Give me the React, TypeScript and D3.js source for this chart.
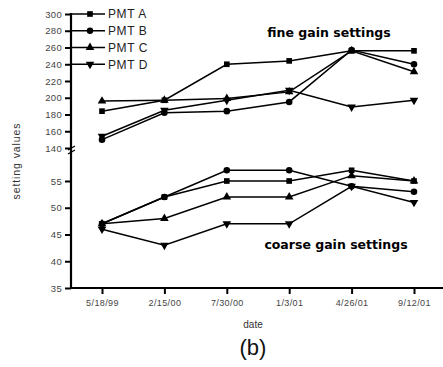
import React, { useEffect, useRef } from "react";
import * as d3 from "d3";

const dates = ["5/18/99", "2/15/00", "7/30/00", "1/3/01", "4/26/01", "9/12/01"];
const seriesNames = ["PMT A", "PMT B", "PMT C", "PMT D"];
const fineTicks = [140, 160, 180, 200, 220, 240, 260, 280, 300];
const coarseTicks = [35, 40, 45, 50, 55];

// fine gain settings
const fineA = [184, 197, 240, 244, 256, 256];
const fineB = [150, 182, 184, 195, 257, 240];
const fineC = [196, 197, 199, 207, 256, 231];
const fineD = [154, 185, 197, 209, 189, 197];

// coarse gain settings
const coarseA = [47, 52, 55, 55, 57, 55];
const coarseB = [47, 52, 57, 57, 54, 53];
const coarseC = [47, 48, 52, 52, 56, 55];
const coarseD = [46, 43, 47, 47, 54, 51];

const fine = [fineA, fineB, fineC, fineD];
const coarse = [coarseA, coarseB, coarseC, coarseD];

const symbols = [
  d3.symbolSquare,
  d3.symbolCircle,
  d3.symbolTriangle,
  d3.symbolTriangle,
];

const App: React.FC = () => {
  const svgRef = useRef<SVGSVGElement | null>(null);

  useEffect(() => {
    const width = 443;
    const height = 367;
    const axisX = 71;

    const svg = d3
      .select(svgRef.current)
      .attr("width", width)
      .attr("height", height)
      .style("font-family", "Liberation Sans, Arial, sans-serif");
    svg.selectAll("*").remove();

    const x = d3.scalePoint().domain(dates).range([102, 414]);
    const yFine = d3.scaleLinear().domain([140, 300]).range([148, 14]);
    const yCoarse = d3.scaleLinear().domain([35, 55]).range([288, 181]);

    // y axes
    const gFine = svg
      .append("g")
      .attr("transform", `translate(${axisX},0)`)
      .call(d3.axisLeft(yFine).tickValues(fineTicks).tickSize(6).tickSizeOuter(0));
    const gCoarse = svg
      .append("g")
      .attr("transform", `translate(${axisX},0)`)
      .call(d3.axisLeft(yCoarse).tickValues(coarseTicks).tickSize(6).tickSizeOuter(0));
    [gFine, gCoarse].forEach((g) => {
      g.select(".domain").remove();
      g.selectAll("line").attr("stroke", "#000").attr("stroke-width", 2);
      g.selectAll("text")
        .attr("font-size", 9.5)
        .attr("letter-spacing", 0.3)
        .attr("fill", "#444")
        .attr("x", -9);
    });
    svg
      .append("line")
      .attr("x1", axisX)
      .attr("x2", axisX)
      .attr("y1", 13)
      .attr("y2", 289)
      .attr("stroke", "#000")
      .attr("stroke-width", 2.2);

    // axis break
    [148, 152].forEach((yy) => {
      svg
        .append("line")
        .attr("x1", axisX - 3)
        .attr("x2", axisX + 4)
        .attr("y1", yy + 2)
        .attr("y2", yy - 2)
        .attr("stroke", "#000")
        .attr("stroke-width", 1.3);
    });

    // x axis
    const gx = svg
      .append("g")
      .attr("transform", `translate(0,288)`)
      .call(d3.axisBottom(x).tickSize(6).tickSizeOuter(0));
    gx.select(".domain").remove();
    gx.selectAll("line").attr("stroke", "#000").attr("stroke-width", 2);
    gx.selectAll("text")
      .attr("font-size", 9)
      .attr("letter-spacing", 0.4)
      .attr("fill", "#444")
      .attr("y", 18)
      .attr("dy", 0);
    svg
      .append("line")
      .attr("x1", axisX - 1)
      .attr("x2", 443)
      .attr("y1", 288)
      .attr("y2", 288)
      .attr("stroke", "#000")
      .attr("stroke-width", 2.2);

    const drawSeries = (
      values: number[],
      y: d3.ScaleLinear<number, number>,
      i: number,
    ) => {
      const line = d3
        .line<number>()
        .x((_, j) => x(dates[j]) as number)
        .y((d) => y(d));
      svg
        .append("path")
        .datum(values)
        .attr("d", line)
        .attr("fill", "none")
        .attr("stroke", "#000")
        .attr("stroke-width", 1.5);
      svg
        .selectAll(null)
        .data(values)
        .enter()
        .append("path")
        .attr("d", d3.symbol().type(symbols[i]).size(i === 1 ? 34 : 32)())
        .attr(
          "transform",
          (d, j) =>
            `translate(${x(dates[j])},${y(d)})` + (i === 3 ? " rotate(180)" : ""),
        )
        .attr("fill", "#000");
    };

    fine.forEach((vals, i) => drawSeries(vals, yFine, i));
    coarse.forEach((vals, i) => drawSeries(vals, yCoarse, i));

    // legend
    seriesNames.forEach((name, i) => {
      const ly = yFine(fineTicks[fineTicks.length - 1 - i]);
      svg
        .append("line")
        .attr("x1", axisX)
        .attr("x2", 105)
        .attr("y1", ly)
        .attr("y2", ly)
        .attr("stroke", "#000")
        .attr("stroke-width", 1.5);
      svg
        .append("path")
        .attr("d", d3.symbol().type(symbols[i]).size(32)())
        .attr("transform", `translate(90,${ly})` + (i === 3 ? " rotate(180)" : ""))
        .attr("fill", "#000");
      svg
        .append("text")
        .attr("x", 108)
        .attr("y", ly)
        .attr("dy", "0.36em")
        .attr("font-size", 12)
        .attr("letter-spacing", 0.6)
        .attr("fill", "#222")
        .text(name);
    });

    // annotations
    svg
      .append("text")
      .attr("x", 329)
      .attr("y", 37)
      .attr("text-anchor", "middle")
      .attr("font-size", 12.5)
      .attr("font-weight", "bold")
      .attr("font-family", "DejaVu Sans, sans-serif")
      .text("fine gain settings");
    svg
      .append("text")
      .attr("x", 336)
      .attr("y", 249)
      .attr("text-anchor", "middle")
      .attr("font-size", 12.5)
      .attr("font-weight", "bold")
      .attr("font-family", "DejaVu Sans, sans-serif")
      .text("coarse gain settings");

    // axis titles
    svg
      .append("text")
      .attr("transform", `translate(20,161) rotate(-90)`)
      .attr("text-anchor", "middle")
      .attr("font-size", 10.5)
      .attr("letter-spacing", 0.9)
      .attr("fill", "#333")
      .text("setting values");
    svg
      .append("text")
      .attr("x", 253)
      .attr("y", 328)
      .attr("text-anchor", "middle")
      .attr("font-size", 10)
      .attr("fill", "#333")
      .text("date");
    svg
      .append("text")
      .attr("x", 253)
      .attr("y", 355)
      .attr("text-anchor", "middle")
      .attr("font-size", 22)
      .attr("fill", "#111")
      .text("(b)");
  }, []);

  return (
    <svg
      ref={svgRef}
      style={{ position: "absolute", left: 0, top: 0, background: "#fff" }}
    ></svg>
  );
};

export default App;
